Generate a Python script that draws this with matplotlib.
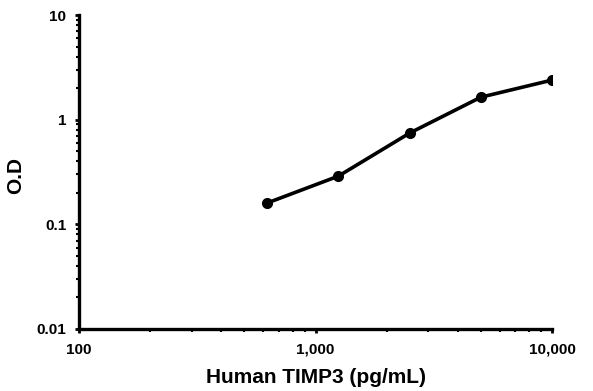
import matplotlib
matplotlib.use("Agg")
import matplotlib.pyplot as plt
from matplotlib.ticker import FixedLocator, FixedFormatter, LogLocator, NullFormatter

plt.rcParams["font.family"] = ["Liberation Sans", "DejaVu Sans"]

conc = [625, 1250, 2500, 5000, 10000]
od = [0.16, 0.289, 0.745, 1.64, 2.39]

x_ticks = [100, 1000, 10000]
x_labels = ["100", "1,000", "10,000"]
y_ticks = [0.01, 0.1, 1, 10]
y_labels = ["0.01", "0.1", "1", "10"]

fig = plt.figure(figsize=(5.93, 3.91), dpi=100)
ax = fig.add_axes([0.1332, 0.1586, 0.931 - 0.1332, 0.9616 - 0.1586])

ax.plot(conc, od, color="black", lw=2.6, marker="o", ms=7, solid_capstyle="round")

ax.set_xscale("log")
ax.set_yscale("log")
ax.set_xlim(100, 10000)
ax.set_ylim(0.01, 10)

ax.xaxis.set_major_locator(FixedLocator(x_ticks))
ax.xaxis.set_major_formatter(FixedFormatter(x_labels))
ax.yaxis.set_major_locator(FixedLocator(y_ticks))
ax.yaxis.set_major_formatter(FixedFormatter(y_labels))
ax.xaxis.set_minor_locator(LogLocator(base=10, subs=range(2, 10)))
ax.yaxis.set_minor_locator(LogLocator(base=10, subs=range(2, 10)))
ax.xaxis.set_minor_formatter(NullFormatter())
ax.yaxis.set_minor_formatter(NullFormatter())

for side in ("top", "right"):
    ax.spines[side].set_visible(False)
for side in ("left", "bottom"):
    ax.spines[side].set_linewidth(2.4)

ax.tick_params(which="major", direction="out", length=3, width=2)
ax.tick_params(axis="x", which="major", pad=7)
ax.tick_params(axis="y", which="major", pad=6)
ax.tick_params(which="minor", direction="out", length=2, width=1.5)
for lab in ax.get_xticklabels() + ax.get_yticklabels():
    lab.set_fontsize(11)
    lab.set_fontweight("bold")

ax.set_xlabel("Human TIMP3 (pg/mL)", fontsize=15, fontweight="bold", labelpad=8)
ax.set_ylabel("O.D", fontsize=15, fontweight="bold")
ax.yaxis.set_label_coords(-0.114, 0.49)

fig.savefig("out.png", dpi=100)
